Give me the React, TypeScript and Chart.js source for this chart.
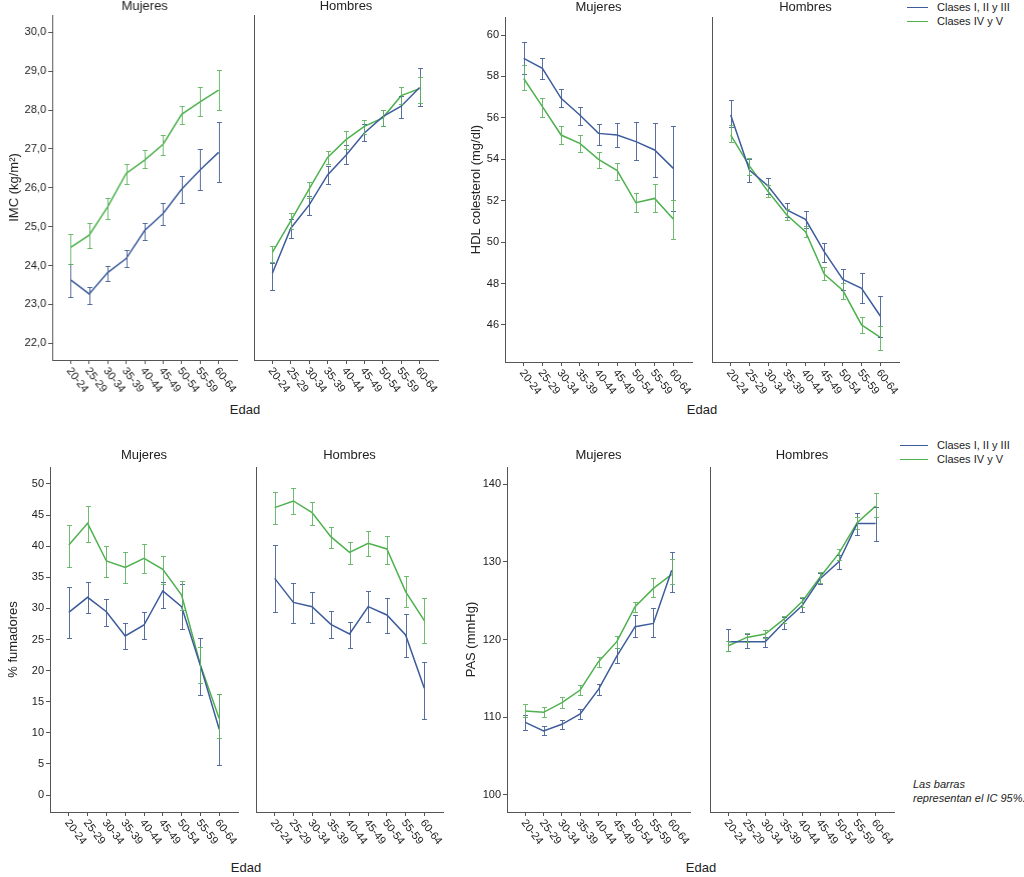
import React, { useEffect, useRef } from 'react';
import { Chart, registerables } from 'chart.js';

Chart.register(...registerables);

const FONT = '"Liberation Sans", Arial, Helvetica, sans-serif';
Chart.defaults.font.family = FONT;

// ---------- data ----------
const ages = ['20-24', '25-29', '30-34', '35-39', '40-44', '45-49', '50-54', '55-59', '60-64'];
const seriesNames = ['Clases I, II y III', 'Clases IV y V'];

// IMC (kg/m2)
const imcTicks = [22, 23, 24, 25, 26, 27, 28, 29, 30];
const imcMujA = [23.63, 23.27, 23.82, 24.18, 24.9, 25.34, 25.96, 26.46, 26.91];
const imcMujALo = [23.2, 23.0, 23.6, 23.95, 24.65, 25.05, 25.6, 25.95, 26.15];
const imcMujAHi = [24.05, 23.45, 24.0, 24.4, 25.1, 25.6, 26.3, 27.0, 27.7];
const imcMujB = [24.47, 24.78, 25.51, 26.37, 26.71, 27.12, 27.89, 28.21, 28.51];
const imcMujBLo = [24.05, 24.45, 25.2, 26.1, 26.5, 26.85, 27.65, 27.85, 28.0];
const imcMujBHi = [24.8, 25.1, 25.75, 26.6, 26.98, 27.35, 28.1, 28.6, 29.02];
const imcHomA = [23.8, 24.96, 25.56, 26.33, 26.84, 27.41, 27.83, 28.1, 28.58];
const imcHomALo = [23.37, 24.7, 25.3, 26.1, 26.6, 27.2, 27.6, 27.8, 28.1];
const imcHomAHi = [24.06, 25.2, 25.8, 26.55, 27.1, 27.65, 28.0, 28.35, 29.07];
const imcHomB = [24.34, 25.15, 25.97, 26.78, 27.24, 27.58, 27.8, 28.37, 28.55];
const imcHomBLo = [24.1, 24.95, 25.75, 26.6, 27.0, 27.38, 27.6, 28.15, 28.17];
const imcHomBHi = [24.5, 25.35, 26.15, 26.95, 27.45, 27.75, 28.0, 28.6, 28.85];

// HDL colesterol (mg/dl)
const hdlTicks = [46, 48, 50, 52, 54, 56, 58, 60];
const hdlMujA = [58.87, 58.39, 56.94, 56.14, 55.25, 55.17, 54.85, 54.45, 53.56];
const hdlMujALo = [58.1, 57.9, 56.5, 55.65, 54.7, 54.58, 53.97, 53.16, 51.52];
const hdlMujAHi = [59.68, 58.87, 57.38, 56.54, 55.7, 55.77, 55.78, 55.74, 55.6];
const hdlMujB = [57.9, 56.54, 55.17, 54.77, 54.0, 53.45, 51.9, 52.11, 51.12];
const hdlMujBLo = [57.34, 56.03, 54.74, 54.34, 53.56, 53.0, 51.44, 51.47, 50.14];
const hdlMujBHi = [58.55, 56.97, 55.6, 55.17, 54.34, 53.8, 52.36, 52.79, 52.03];
const hdlHomA = [56.14, 53.48, 52.71, 51.55, 51.1, 49.54, 48.2, 47.77, 46.43];
const hdlHomALo = [55.57, 52.92, 52.32, 51.2, 50.67, 49.05, 47.68, 47.04, 45.44];
const hdlHomAHi = [56.86, 54.0, 53.11, 51.87, 51.5, 49.94, 48.68, 48.49, 47.4];
const hdlHomB = [55.17, 53.68, 52.44, 51.31, 50.5, 48.46, 47.66, 46.0, 45.4];
const hdlHomBLo = [54.85, 53.24, 52.2, 51.07, 50.23, 48.17, 47.24, 45.6, 44.79];
const hdlHomBHi = [55.65, 54.05, 52.76, 51.59, 50.78, 48.82, 48.01, 46.37, 45.95];

// % fumadores
const fumTicks = [0, 5, 10, 15, 20, 25, 30, 35, 40, 45, 50];
const fumMujA = [29.37, 31.78, 29.47, 25.56, 27.33, 32.8, 30.28, 20.8, 10.56];
const fumMujALo = [25.2, 29.3, 27.2, 23.4, 25.0, 30.1, 26.7, 16.1, 4.8];
const fumMujAHi = [33.5, 34.3, 31.56, 27.6, 29.5, 34.3, 34.0, 25.2, 16.3];
const fumMujB = [40.19, 43.68, 37.62, 36.6, 38.05, 36.28, 32.15, 20.9, 12.3];
const fumMujBLo = [36.6, 40.7, 35.1, 34.1, 35.7, 34.0, 29.7, 17.95, 9.1];
const fumMujBHi = [43.4, 46.5, 40.0, 39.0, 40.3, 38.5, 34.4, 23.8, 16.3];
const fumHomA = [34.83, 30.97, 30.28, 27.44, 25.88, 30.28, 28.94, 25.72, 17.15];
const fumHomALo = [29.37, 27.7, 27.7, 25.19, 23.58, 27.87, 26.1, 22.24, 12.22];
const fumHomAHi = [40.2, 34.14, 32.7, 29.58, 27.87, 32.85, 31.73, 29.05, 21.44];
const fumHomB = [46.2, 47.27, 45.39, 41.53, 39.0, 40.46, 39.55, 32.69, 28.03];
const fumHomBLo = [43.57, 45.1, 43.4, 39.66, 37.08, 38.48, 37.2, 30.17, 24.4];
const fumHomBHi = [48.66, 49.3, 47.16, 43.14, 40.73, 42.44, 41.64, 35.2, 31.6];

// PAS (mmHg)
const pasTicks = [100, 110, 120, 130, 140];
const pasMujA = [109.34, 108.23, 109.09, 110.42, 113.59, 117.87, 121.65, 122.07, 128.9];
const pasMujALo = [108.36, 107.72, 108.49, 109.8, 112.86, 116.93, 120.27, 120.27, 126.06];
const pasMujAHi = [110.29, 108.87, 109.64, 111.0, 114.27, 118.86, 123.15, 124.0, 131.2];
const pasMujB = [110.8, 110.63, 111.87, 113.5, 117.15, 119.72, 124.22, 126.58, 128.37];
const pasMujBLo = [109.99, 109.99, 111.14, 112.86, 116.42, 118.86, 123.57, 125.5, 127.2];
const pasMujBHi = [111.7, 111.36, 112.56, 114.14, 117.7, 120.45, 124.86, 127.86, 130.3];
const pasHomA = [119.72, 119.72, 119.72, 122.16, 124.35, 127.86, 130.0, 134.93, 134.93];
const pasHomALo = [118.56, 118.86, 119.07, 121.35, 123.49, 127.13, 129.06, 133.43, 132.7];
const pasHomAHi = [121.3, 120.7, 120.36, 122.85, 125.29, 128.59, 130.86, 136.3, 137.07];
const pasHomB = [119.2, 120.27, 120.7, 122.59, 124.86, 128.07, 131.08, 135.02, 137.16];
const pasHomBLo = [118.56, 119.63, 120.15, 122.07, 124.22, 127.3, 130.2, 134.2, 135.7];
const pasHomBHi = [119.85, 120.79, 121.2, 123.0, 125.5, 128.7, 131.7, 135.8, 138.9];

// ---------- styles ----------
const BLUE = '#3d5c9c';
const GREEN = '#4db14d';
const BLUE_BAR = 'rgba(70,95,150,0.9)';
const GREEN_BAR = 'rgba(95,180,95,0.9)';
const AXIS = '#555555';
const TEXT = '#222222';

type Series = { values: number[]; lo: number[]; hi: number[]; color: string; barColor: string; label: string };

interface Spec {
  key: string;
  left: number;
  top: number;
  axisX: number;
  right: number;
  axisTop: number;
  axisBottom: number;
  title: string;
  titlePadTop: number;
  yMin: number;
  yMax: number;
  yTicks: number[];
  yFmt: (v: number) => string;
  showY: boolean;
  yTitle?: string;
  yTitlePad?: number;
  series: Series[];
}

const X_AXIS_H = 40;
const PAD_R = 3;

const errorBarPlugin = {
  id: 'errorBars',
  afterDatasetsDraw(chart: any) {
    const { ctx } = chart;
    const xs = chart.scales.x;
    const ys = chart.scales.y;
    chart.data.datasets.forEach((ds: any) => {
      if (!ds.lo) return;
      ctx.save();
      ctx.strokeStyle = ds.barColor;
      ctx.lineWidth = 1;
      ds.lo.forEach((lo: number, i: number) => {
        const px = Math.round(xs.getPixelForValue(i)) + 0.5;
        const y1 = Math.round(ys.getPixelForValue(lo)) + 0.5;
        const y2 = Math.round(ys.getPixelForValue(ds.hi[i])) + 0.5;
        ctx.beginPath();
        ctx.moveTo(px, y1);
        ctx.lineTo(px, y2);
        ctx.moveTo(px - 2.5, y1);
        ctx.lineTo(px + 2.5, y1);
        ctx.moveTo(px - 2.5, y2);
        ctx.lineTo(px + 2.5, y2);
        ctx.stroke();
      });
      ctx.restore();
    });
  },
};

const xLabelPlugin = {
  id: 'xLabels',
  afterDraw(chart: any) {
    const { ctx } = chart;
    const xs = chart.scales.x;
    ctx.save();
    ctx.font = `11px ${FONT}`;
    ctx.fillStyle = TEXT;
    ctx.textAlign = 'left';
    ctx.textBaseline = 'middle';
    ages.forEach((lab, i) => {
      const px = xs.getPixelForValue(i);
      ctx.save();
      ctx.translate(px - 2, xs.top + 9);
      ctx.rotate((52 * Math.PI) / 180);
      ctx.fillText(lab, 0, 0);
      ctx.restore();
    });
    ctx.restore();
  },
};

function SubPlot({ spec }: { spec: Spec }) {
  const ref = useRef<HTMLCanvasElement | null>(null);
  const width = spec.right + PAD_R - spec.left;
  const height = spec.axisBottom + X_AXIS_H - spec.top;
  const titleBox = spec.axisTop - spec.top;

  useEffect(() => {
    if (!ref.current) return;
    const chart = new Chart(ref.current, {
      type: 'line',
      data: {
        datasets: spec.series.map((s) => ({
          label: s.label,
          data: s.values.map((v, i) => ({ x: i, y: v })),
          borderColor: s.color,
          backgroundColor: s.color,
          borderWidth: 1.5,
          pointRadius: 0,
          tension: 0,
          fill: false,
          lo: s.lo,
          hi: s.hi,
          barColor: s.barColor,
        })) as any,
      },
      options: {
        animation: false,
        responsive: false,
        devicePixelRatio: 1,
        layout: { padding: { left: 0, right: PAD_R, top: 0, bottom: 0 } },
        plugins: {
          legend: { display: false },
          tooltip: { enabled: false },
          title: {
            display: true,
            text: spec.title,
            fullSize: false,
            color: TEXT,
            font: { size: 13, weight: 'normal', lineHeight: 1 },
            padding: { top: spec.titlePadTop, bottom: titleBox - 13 - spec.titlePadTop },
          },
        },
        scales: {
          x: {
            type: 'linear',
            min: -1,
            max: 9,
            afterBuildTicks: (s: any) => {
              s.ticks = ages.map((_, i) => ({ value: i }));
            },
            afterFit: (s: any) => {
              s.height = X_AXIS_H;
            },
            ticks: { display: false },
            grid: { display: true, drawOnChartArea: false, drawTicks: true, tickLength: 4, color: AXIS, lineWidth: 1 },
            border: { display: true, color: AXIS, width: 1 },
          },
          y: {
            type: 'linear',
            min: spec.yMin,
            max: spec.yMax,
            afterBuildTicks: (s: any) => {
              s.ticks = spec.yTicks.map((v) => ({ value: v }));
            },
            afterFit: (s: any) => {
              s.width = spec.axisX - spec.left;
            },
            ticks: {
              display: spec.showY,
              padding: 2,
              color: TEXT,
              font: { size: 11 },
              callback: (v: any) => spec.yFmt(Number(v)),
            },
            grid: {
              display: true,
              drawOnChartArea: false,
              drawTicks: spec.showY,
              tickLength: spec.showY ? 4 : 0,
              color: AXIS,
              lineWidth: 1,
            },
            border: { display: true, color: AXIS, width: 1 },
            title: {
              display: !!spec.yTitle,
              text: spec.yTitle || '',
              color: TEXT,
              font: { size: 13 },
              padding: { top: spec.yTitlePad || 0, bottom: 0 },
            },
          },
        },
      },
      plugins: [errorBarPlugin, xLabelPlugin],
    } as any);
    return () => chart.destroy();
  }, [spec]);

  return (
    <canvas
      ref={ref}
      width={width}
      height={height}
      style={{ position: 'absolute', left: spec.left, top: spec.top, width, height }}
    />
  );
}

const fmtComma = (v: number) => v.toFixed(1).replace('.', ',');
const fmtInt = (v: number) => String(Math.round(v));

function pair(a: number[], aLo: number[], aHi: number[], b: number[], bLo: number[], bHi: number[]): Series[] {
  return [
    { values: a, lo: aLo, hi: aHi, color: BLUE, barColor: BLUE_BAR, label: seriesNames[0] },
    { values: b, lo: bLo, hi: bHi, color: GREEN, barColor: GREEN_BAR, label: seriesNames[1] },
  ];
}

const specs: Spec[] = [
  {
    key: 'imcM', left: 0, top: 0, axisX: 52, right: 236.5, axisTop: 15, axisBottom: 360,
    title: 'Mujeres', titlePadTop: 0, yMin: 21.57, yMax: 30.445, yTicks: imcTicks, yFmt: fmtComma,
    showY: true, yTitle: 'IMC (kg/m²)', yTitlePad: 7,
    series: pair(imcMujA, imcMujALo, imcMujAHi, imcMujB, imcMujBLo, imcMujBHi),
  },
  {
    key: 'imcH', left: 250, top: 0, axisX: 254, right: 438, axisTop: 15, axisBottom: 360,
    title: 'Hombres', titlePadTop: 0, yMin: 21.57, yMax: 30.445, yTicks: imcTicks, yFmt: fmtComma,
    showY: false,
    series: pair(imcHomA, imcHomALo, imcHomAHi, imcHomB, imcHomBLo, imcHomBHi),
  },
  {
    key: 'hdlM', left: 460, top: 0, axisX: 505, right: 692, axisTop: 17, axisBottom: 362,
    title: 'Mujeres', titlePadTop: 1, yMin: 44.21, yMax: 60.87, yTicks: hdlTicks, yFmt: fmtInt,
    showY: true, yTitle: 'HDL colesterol (mg/dl)', yTitlePad: 9,
    series: pair(hdlMujA, hdlMujALo, hdlMujAHi, hdlMujB, hdlMujBLo, hdlMujBHi),
  },
  {
    key: 'hdlH', left: 707, top: 0, axisX: 712, right: 899, axisTop: 17, axisBottom: 362,
    title: 'Hombres', titlePadTop: 1, yMin: 44.21, yMax: 60.87, yTicks: hdlTicks, yFmt: fmtInt,
    showY: false,
    series: pair(hdlHomA, hdlHomALo, hdlHomAHi, hdlHomB, hdlHomBLo, hdlHomBHi),
  },
  {
    key: 'fumM', left: 0, top: 440, axisX: 50, right: 238, axisTop: 467, axisBottom: 812,
    title: 'Mujeres', titlePadTop: 8.5, yMin: -2.73, yMax: 52.73, yTicks: fumTicks, yFmt: fmtInt,
    showY: true, yTitle: '% fumadores', yTitlePad: 6,
    series: pair(fumMujA, fumMujALo, fumMujAHi, fumMujB, fumMujBLo, fumMujBHi),
  },
  {
    key: 'fumH', left: 251, top: 440, axisX: 256, right: 443, axisTop: 467, axisBottom: 812,
    title: 'Hombres', titlePadTop: 8.5, yMin: -2.73, yMax: 52.73, yTicks: fumTicks, yFmt: fmtInt,
    showY: false,
    series: pair(fumHomA, fumHomALo, fumHomAHi, fumHomB, fumHomBLo, fumHomBHi),
  },
  {
    key: 'pasM', left: 460, top: 440, axisX: 507, right: 690, axisTop: 467, axisBottom: 812,
    title: 'Mujeres', titlePadTop: 8.5, yMin: 97.81, yMax: 142.19, yTicks: pasTicks, yFmt: fmtInt,
    showY: true, yTitle: 'PAS (mmHg)', yTitlePad: 4,
    series: pair(pasMujA, pasMujALo, pasMujAHi, pasMujB, pasMujBLo, pasMujBHi),
  },
  {
    key: 'pasH', left: 705, top: 440, axisX: 710, right: 894, axisTop: 467, axisBottom: 812,
    title: 'Hombres', titlePadTop: 8.5, yMin: 97.81, yMax: 142.19, yTicks: pasTicks, yFmt: fmtInt,
    showY: false,
    series: pair(pasHomA, pasHomALo, pasHomAHi, pasHomB, pasHomBLo, pasHomBHi),
  },
];

function Legend({ top, lineLeft }: { top: number; lineLeft: number }) {
  const colors = [BLUE, GREEN];
  return (
    <>
      {seriesNames.map((name, i) => (
        <React.Fragment key={name}>
          <div
            style={{
              position: 'absolute',
              left: lineLeft,
              top: top + i * 14,
              width: 928 - lineLeft,
              height: 0,
              borderTop: `1.5px solid ${colors[i]}`,
            }}
          />
          <div
            style={{
              position: 'absolute',
              left: 937,
              top: top + i * 14 - 7,
              height: 14,
              lineHeight: '14px',
              fontSize: 11,
              fontFamily: FONT,
              color: TEXT,
              whiteSpace: 'nowrap',
            }}
          >
            {name}
          </div>
        </React.Fragment>
      ))}
    </>
  );
}

function XTitle({ cx, cy }: { cx: number; cy: number }) {
  return (
    <div
      style={{
        position: 'absolute',
        left: cx - 40,
        top: cy - 8,
        width: 80,
        height: 16,
        lineHeight: '16px',
        textAlign: 'center',
        fontSize: 13,
        fontFamily: FONT,
        color: TEXT,
      }}
    >
      Edad
    </div>
  );
}

export default function App() {
  return (
    <div
      style={{
        position: 'absolute',
        left: 0,
        top: 0,
        width: 1024,
        height: 877,
        background: '#ffffff',
        overflow: 'hidden',
      }}
    >
      {specs.map((s) => (
        <SubPlot key={s.key} spec={s} />
      ))}
      <XTitle cx={245} cy={410} />
      <XTitle cx={702} cy={410} />
      <XTitle cx={246} cy={868} />
      <XTitle cx={701} cy={868} />
      <Legend top={7} lineLeft={907} />
      <Legend top={445} lineLeft={900} />
      <div
        style={{
          position: 'absolute',
          left: 913,
          top: 777,
          fontSize: 11,
          lineHeight: '14px',
          fontFamily: FONT,
          fontStyle: 'italic',
          color: TEXT,
          whiteSpace: 'nowrap',
        }}
      >
        Las barras
        <br />
        representan el IC 95%.
      </div>
    </div>
  );
}
